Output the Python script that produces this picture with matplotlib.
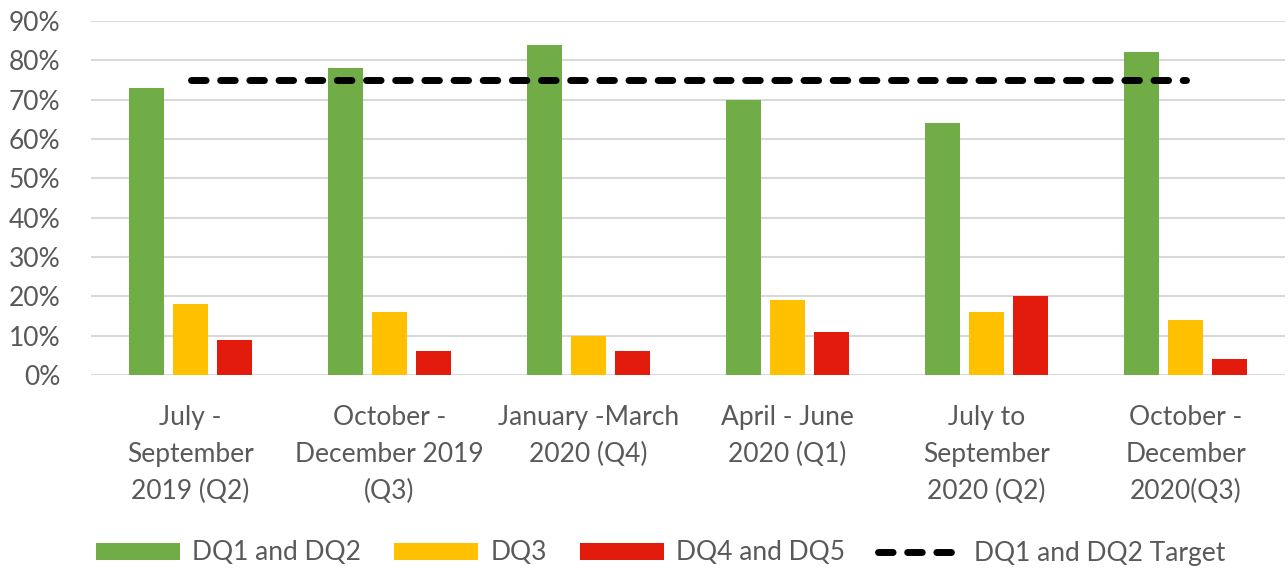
import matplotlib
matplotlib.use("Agg")
import matplotlib.pyplot as plt
import numpy as np
from matplotlib.ticker import PercentFormatter

categories = [
    "July -\nSeptember\n2019 (Q2)",
    "October -\nDecember 2019\n(Q3)",
    "January -March\n2020 (Q4)",
    "April - June\n2020 (Q1)",
    "July to\nSeptember\n2020 (Q2)",
    "October -\nDecember\n2020(Q3)",
]
dq12 = [73, 78, 84, 70, 64, 82]
dq3 = [18, 16, 10, 19, 16, 14]
dq45 = [9, 6, 6, 11, 20, 4]
target = [75, 75, 75, 75, 75, 75]

GREEN, YELLOW, RED = "#70AD47", "#FFC000", "#E31B0C"
TEXT = "#595959"

plt.rcParams["font.family"] = ["Lato", "DejaVu Sans"]
plt.rcParams["font.size"] = 19

fig = plt.figure(figsize=(12.88, 5.68), dpi=100)
ax = fig.add_axes([91 / 1288, 1 - 375 / 568, 1194 / 1288, 354 / 568])

x = np.arange(len(categories))
w, step = 0.176, 0.222
b1 = ax.bar(x - step, dq12, w, color=GREEN, label="DQ1 and DQ2", zorder=3)
b2 = ax.bar(x, dq3, w, color=YELLOW, label="DQ3", zorder=3)
b3 = ax.bar(x + step, dq45, w, color=RED, label="DQ4 and DQ5", zorder=3)
ln, = ax.plot(x, target, color="black", lw=5, dashes=(2.1, 2.1),
              dash_capstyle="round", label="DQ1 and DQ2 Target", zorder=4)

ax.set_xlim(-0.5, len(categories) - 0.5)
ax.set_ylim(0, 90)
ax.set_yticks(range(0, 91, 10))
ax.yaxis.set_major_formatter(PercentFormatter(decimals=0))
ax.set_xticks(x)
ax.set_xticklabels(categories, linespacing=1.6)
ax.tick_params(axis="both", length=0, colors=TEXT, labelsize=19)
ax.tick_params(axis="y", pad=22)
ax.tick_params(axis="x", pad=21.5)
for s in ax.spines.values():
    s.set_visible(False)
ax.grid(axis="y", color="#D9D9D9", lw=1.5, zorder=0)
ax.set_axisbelow(True)

leg = fig.legend([b1, b2, b3, ln], [h.get_label() for h in (b1, b2, b3, ln)],
                 loc="center", bbox_to_anchor=(0.513, 1 - 553 / 568), ncol=4,
                 frameon=False, handlelength=3.2, handleheight=0.6,
                 handletextpad=0.45, columnspacing=1.25, fontsize=19)
for t in leg.get_texts():
    t.set_color(TEXT)

fig.savefig("out.png", dpi=100)
